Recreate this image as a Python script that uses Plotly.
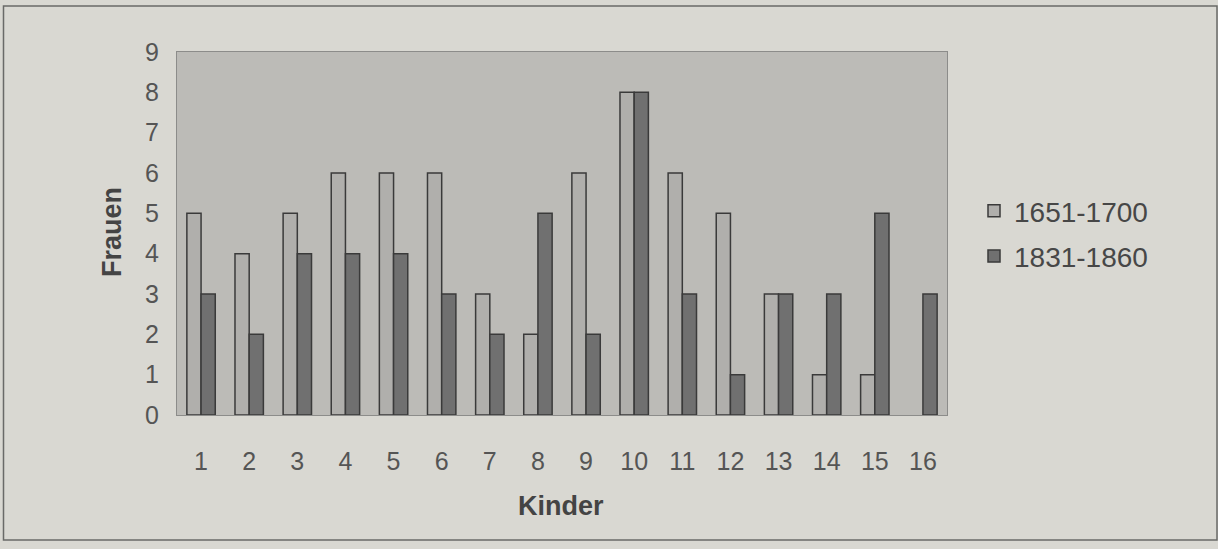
import plotly.graph_objects as go

categories = [str(i) for i in range(1, 17)]
series_a_name = "1651-1700"
series_a = [5, 4, 5, 6, 6, 6, 3, 2, 6, 8, 6, 5, 3, 1, 1, 0]
series_b_name = "1831-1860"
series_b = [3, 2, 4, 4, 4, 3, 2, 5, 2, 8, 3, 1, 3, 3, 5, 3]
y_ticks = list(range(0, 10))

W, H = 1218, 549
L, R, T, B = 177, 271, 52, 134
pw, ph = W - L - R, H - T - B


def px_x(x):
    return (x - L) / pw


def px_y(y):
    return (H - B - y) / ph


def line_widths(vals):
    return [0 if v == 0 else 1.5 for v in vals]


fig = go.Figure()
fig.add_trace(go.Bar(x=categories, y=series_a, name=series_a_name, legendgroup="a",
                     marker=dict(color="#b0afac", line=dict(color="#3a3a3a", width=line_widths(series_a)))))
fig.add_trace(go.Bar(x=categories, y=series_b, name=series_b_name, legendgroup="b",
                     marker=dict(color="#707070", line=dict(color="#3a3a3a", width=line_widths(series_b)))))

font_family = "Liberation Sans, Arial, sans-serif"
fig.update_layout(
    width=W, height=H,
    margin=dict(l=L, r=R, t=T, b=B),
    paper_bgcolor="#d9d8d2",
    plot_bgcolor="#bcbbb7",
    barmode="group",
    bargap=0.41,
    bargroupgap=0,
    font=dict(family=font_family, size=25, color="#444444"),
    showlegend=True,
    legend=dict(x=px_x(974), y=px_y(186), xanchor="left", yanchor="top",
                bgcolor="rgba(0,0,0,0)", font=dict(size=28, color="#474747"),
                tracegroupgap=6, itemwidth=30),
    xaxis=dict(
        showline=True, linecolor="#8c8c8a", linewidth=1, mirror=True,
        ticks="", tickfont=dict(size=25, color="#555555"), ticklabelstandoff=24,
    ),
    yaxis=dict(
        range=[0, 9], tickvals=y_ticks, showgrid=False, zeroline=False,
        showline=True, linecolor="#8c8c8a", linewidth=1, mirror=True,
        ticks="", tickfont=dict(size=25, color="#555555"), ticklabelstandoff=12,
    ),
    annotations=[
        dict(text="<b>Kinder</b>", xref="paper", yref="paper", x=px_x(561), y=px_y(506),
             showarrow=False, xanchor="center", yanchor="middle",
             font=dict(size=27, color="#444444")),
        dict(text="<b>Frauen</b>", xref="paper", yref="paper", x=px_x(112), y=px_y(232),
             showarrow=False, xanchor="center", yanchor="middle", textangle=-90,
             font=dict(size=27, color="#444444")),
    ],
    shapes=[dict(type="rect", xref="paper", yref="paper",
                 x0=px_x(3.5), x1=px_x(1217), y0=px_y(540), y1=px_y(6),
                 line=dict(color="#6a6a68", width=1.5), fillcolor="rgba(0,0,0,0)", layer="below")],
)

fig.write_html("out.html", config={"displayModeBar": False},
               post_script="document.body.style.margin='0px';document.body.style.overflow='hidden';")
